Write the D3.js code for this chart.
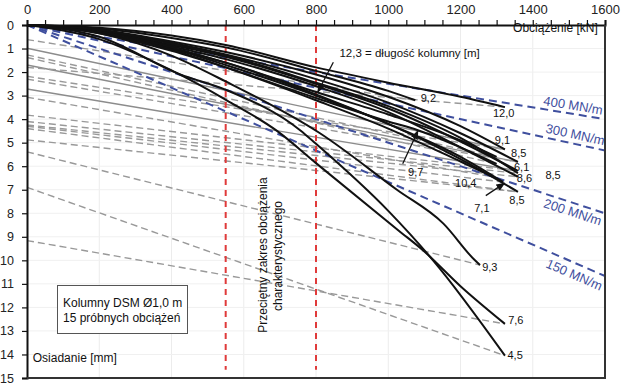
<!DOCTYPE html>
<html><head><meta charset="utf-8">
<script src="https://cdn.jsdelivr.net/npm/d3@7"></script>
<style>
html,body{margin:0;padding:0;background:#fff;}
svg{display:block;font-family:"Liberation Sans",Arial,sans-serif;}
</style></head>
<body><svg id="c" width="621" height="384"></svg>
<script>
// ---- data ----
const xTicks = [0,200,400,600,800,1000,1200,1400,1600];
const yTicks = [0,1,2,3,4,5,6,7,8,9,10,11,12,13,14,15];
const curveLabels = ["12,0","9,2","12,3","9,1","8,5","6,1","8,6","8,5","7,1","10,4","9,7","8,5","9,3","7,6","4,5"];
const curveLoads = [
  [0,200,400,550,800,1000,1200,1323],
  [0,200,400,550,800,1000,1075],
  [0,200,400,550,800,1000,1200,1300],
  [0,200,400,550,800,1000,1200,1323],
  [0,200,400,550,800,1000,1200,1359],
  [0,200,400,550,800,1000,1200,1359],
  [0,200,400,550,800,1000,1200,1359],
  [0,200,400,550,800,1000,1200,1359],
  [0,200,400,550,800,1000,1200,1318],
  [0,200,400,550,800,1000,1200,1290],
  [0,200,400,550,800,1000,1082,1200,1300],
  [0,200,400,550,800,1000,1200,1359],
  [0,200,400,550,811,1024,1152,1240,1254],
  [0,200,396,553,692,800,1030,1096,1200,1323],
  [0,200,424,553,756,800,1000,1124,1323]
];
const curveSettle = [
  [0,0.12,0.45,0.85,1.8,2.45,3.05,3.49],
  [0,0.15,0.55,0.95,1.95,2.8,3.2],
  [0,0.3,1.0,1.6,2.85,3.8,4.9,5.6],
  [0,0.2,0.7,1.15,2.1,3.05,4.3,5.29],
  [0,0.22,0.75,1.25,2.3,3.3,4.6,5.82],
  [0,0.25,0.85,1.35,2.5,3.55,4.95,6.2],
  [0,0.25,0.9,1.45,2.6,3.7,5.2,6.45],
  [0,0.3,1.0,1.7,3.0,4.2,5.7,7.09],
  [0,0.28,0.95,1.6,2.95,4.2,5.6,6.67],
  [0,0.3,1.05,1.8,3.2,4.4,5.8,6.45],
  [0,0.35,1.1,1.8,3.1,4.1,4.47,5.2,5.9],
  [0,0.2,0.8,1.3,2.45,3.45,4.8,6.3],
  [0,0.35,1.3,2.4,4.6,7.0,8.43,10.0,10.2],
  [0,0.6,1.9,3.2,4.5,5.87,8.75,9.57,11.1,12.7],
  [0,0.5,2.1,2.77,4.47,5.05,7.9,10.0,14.05]
];
// gray dashed secant lines: settlement at zero load -> end of curve (index)
const grayDashStart = [1.8,0.62,1.27,2.18,2.3,3.83,4.25,4.88,4.3,3.07,1.38,4.1,5.39,9.16,6.9,4.4];
const grayDashCurve = [0,1,2,3,4,5,6,7,8,9,10,11,12,13,14,7];
const graySolidStart = [0.99,1.70,2.72];
const graySolidCurve = [3,4,5];
const stiffness = [400,300,200,150];
const stiffLabels = ["400 MN/m","300 MN/m","200 MN/m","150 MN/m"];
const redLoads = [550,800];
// label anchors (load, settlement) for end labels
const endLabelX = [1290,1090,null,1295,1340,1348,1356,1335,1238,1185,1055,1435,1260,1332,1330];
const endLabelY = [3.9,3.28,null,5.06,5.6,6.2,6.67,7.6,7.95,6.88,6.4,6.56,10.45,12.7,14.2];

// ---- chart ----
const svg = d3.select("#c");
const x = d3.scaleLinear().domain([0,1600]).range([27,605]);
const y = d3.scaleLinear().domain([0,15]).range([25,378]);

// grid
svg.append("g").selectAll("line").data(xTicks.slice(1,-1)).join("line")
  .attr("x1",d=>x(d)).attr("x2",d=>x(d)).attr("y1",y(0)).attr("y2",y(15))
  .attr("stroke","#ececec").attr("stroke-width",1);
svg.append("g").selectAll("line").data(yTicks.slice(1,-1)).join("line")
  .attr("x1",x(0)).attr("x2",x(1600)).attr("y1",d=>y(d)).attr("y2",d=>y(d))
  .attr("stroke","#f0f0f0").attr("stroke-width",1);

// gray solid lines
svg.append("g").selectAll("line").data(graySolidStart).join("line")
  .attr("x1",x(0)).attr("y1",d=>y(d))
  .attr("x2",(d,i)=>{const c=graySolidCurve[i];return x(curveLoads[c][curveLoads[c].length-1]);})
  .attr("y2",(d,i)=>{const c=graySolidCurve[i];return y(curveSettle[c][curveSettle[c].length-1]);})
  .attr("stroke","#8c8c8c").attr("stroke-width",1.4);
// gray dashed lines
svg.append("g").selectAll("line").data(grayDashStart).join("line")
  .attr("x1",x(0)).attr("y1",d=>y(d))
  .attr("x2",(d,i)=>{const c=grayDashCurve[i];return x(curveLoads[c][curveLoads[c].length-1]);})
  .attr("y2",(d,i)=>{const c=grayDashCurve[i];return y(curveSettle[c][curveSettle[c].length-1]);})
  .attr("stroke","#999").attr("stroke-width",1.4).attr("stroke-dasharray","7,4");

// blue stiffness lines
const blue = "#3f4f9e";
svg.append("g").selectAll("line").data(stiffness).join("line")
  .attr("x1",x(0)).attr("y1",y(0)).attr("x2",x(1600)).attr("y2",d=>y(1600/d))
  .attr("stroke",blue).attr("stroke-width",2).attr("stroke-dasharray","8,5");

// red lines
svg.append("g").selectAll("line").data(redLoads).join("line")
  .attr("x1",d=>x(d)).attr("x2",d=>x(d)).attr("y1",y(0)).attr("y2",y(14.65))
  .attr("stroke","#e03a3a").attr("stroke-width",2).attr("stroke-dasharray","6,5");

// black curves
const line = d3.line().x(d=>x(d[0])).y(d=>y(d[1])).curve(d3.curveMonotoneX);
svg.append("g").selectAll("path").data(curveLoads.map((L,i)=>L.map((v,j)=>[v,curveSettle[i][j]]))).join("path")
  .attr("d",line).attr("fill","none").attr("stroke","#111").attr("stroke-width",2);

// axes
const xAxis = svg.append("g").attr("transform",`translate(0,${y(0)})`)
  .call(d3.axisTop(x).tickValues(d3.range(0,1601,50)).tickFormat(d=>xTicks.includes(d)?d:"").tickSize(5).tickPadding(6));
const yAxis = svg.append("g").attr("transform",`translate(${x(0)},0)`)
  .call(d3.axisLeft(y).tickValues(yTicks).tickSize(5).tickPadding(8));
[xAxis,yAxis].forEach(a=>{
  a.select(".domain").attr("stroke","#111").attr("stroke-width",2);
  a.selectAll(".tick line").attr("stroke","#111").attr("stroke-width",1.2);
  a.selectAll("text").attr("fill","#222").attr("font-family","Liberation Sans, Arial, sans-serif");
});
xAxis.selectAll("text").attr("font-size",13);
yAxis.selectAll("text").attr("font-size",12.5);
// frame right/bottom
svg.append("line").attr("x1",x(1600)).attr("x2",x(1600)).attr("y1",y(0)).attr("y2",y(15)+1).attr("stroke","#333").attr("stroke-width",2);
svg.append("line").attr("x1",x(0)).attr("x2",x(1600)+1).attr("y1",y(15)).attr("y2",y(15)).attr("stroke","#333").attr("stroke-width",2);

// end labels
svg.append("g").selectAll("text").data(curveLabels.map((t,i)=>({t,i})).filter(d=>endLabelX[d.i]!==null)).join("text")
  .attr("x",d=>x(endLabelX[d.i])).attr("y",d=>y(endLabelY[d.i]))
  .attr("font-size",11).attr("fill","#111").text(d=>d.t);

// blue labels
const angle = s => Math.atan2(y(1600/s)-y(0), x(1600)-x(0))*180/Math.PI;
const stiffLabLoad = [1428,1434,1428,1434];
const stiffLabOff = [-4,-5,14,17];
svg.append("g").selectAll("text").data(stiffness).join("text")
  .attr("transform",(d,i)=>`translate(${x(stiffLabLoad[i])},${y(stiffLabLoad[i]/d)+stiffLabOff[i]}) rotate(${angle(d)})`)
  .attr("font-size",13).attr("fill",blue).text((d,i)=>stiffLabels[i]);

// axis titles
svg.append("text").attr("x",x(1580)).attr("y",y(0.3)).attr("text-anchor","end").attr("font-size",12).attr("fill","#111").text("Obciążenie [kN]");
svg.append("text").attr("x",x(16)).attr("y",y(14.3)).attr("font-size",12).attr("fill","#111").text("Osiadanie [mm]");

// note
svg.append("text").attr("x",x(865)).attr("y",y(1.35)).attr("font-size",11.5).attr("fill","#111").text("12,3 = długość kolumny [m]");

// arrows
const defs = svg.append("defs");
defs.append("marker").attr("id","ah").attr("viewBox","0 0 10 10").attr("refX",9).attr("refY",5)
  .attr("markerWidth",7).attr("markerHeight",7).attr("orient","auto")
  .append("path").attr("d","M0,1 L10,5 L0,9 Z").attr("fill","#111");
const arrowFrom = [[848,1.58],[1040,5.9],[1270,7.25]];
const arrowTo = [[805,2.85],[1082,4.5],[1322,6.72]];
svg.append("g").selectAll("line").data(arrowFrom).join("line")
  .attr("x1",d=>x(d[0])).attr("y1",d=>y(d[1]))
  .attr("x2",(d,i)=>x(arrowTo[i][0])).attr("y2",(d,i)=>y(arrowTo[i][1]))
  .attr("stroke","#111").attr("stroke-width",1.3).attr("marker-end","url(#ah)");

// rotated text
const rt = svg.append("g").attr("font-size",12).attr("fill","#111").attr("text-anchor","middle");
rt.append("text").attr("transform",`translate(267,255) rotate(-90)`).text("Przeciętny zakres obciążenia");
rt.append("text").attr("transform",`translate(282,256) rotate(-90)`).text("charakterystycznego");

// legend box
svg.append("rect").attr("x",57.5).attr("y",285.5).attr("width",130).attr("height",48)
  .attr("fill","#fff").attr("stroke","#555").attr("stroke-width",1);
svg.append("text").attr("x",63).attr("y",307).attr("font-size",12).attr("fill","#111").text("Kolumny DSM Ø1,0 m");
svg.append("text").attr("x",63).attr("y",322).attr("font-size",12).attr("fill","#111").text("15 próbnych obciążeń");
</script></body></html>
